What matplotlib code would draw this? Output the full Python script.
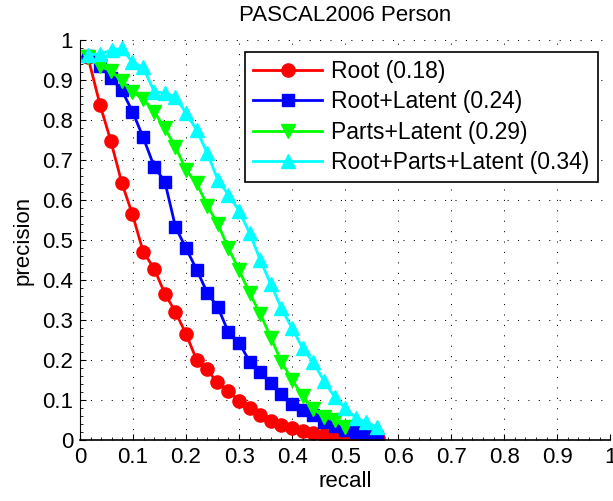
import numpy as np
import matplotlib
matplotlib.use("Agg")
import matplotlib.pyplot as plt
from matplotlib.ticker import MultipleLocator

plt.rcParams['font.family'] = ['Liberation Sans', 'DejaVu Sans']

# recall / precision samples
recall_root = [0.015, 0.038, 0.058, 0.079, 0.099, 0.119, 0.140, 0.160, 0.180, 0.200,
               0.220, 0.239, 0.258, 0.280, 0.300, 0.320, 0.340, 0.360, 0.380, 0.400,
               0.420, 0.440, 0.460, 0.480, 0.500, 0.520, 0.540, 0.562]
prec_root = [0.957, 0.837, 0.748, 0.642, 0.564, 0.471, 0.428, 0.366, 0.320, 0.265,
             0.200, 0.177, 0.145, 0.123, 0.097, 0.079, 0.063, 0.048, 0.037, 0.029,
             0.023, 0.017, 0.013, 0.009, 0.006, 0.004, 0.004, 0.006]

recall_rl = [0.015, 0.038, 0.058, 0.079, 0.099, 0.119, 0.140, 0.160, 0.180, 0.200,
             0.220, 0.240, 0.260, 0.280, 0.300, 0.320, 0.340, 0.360, 0.380, 0.400,
             0.420, 0.440, 0.460, 0.480, 0.500, 0.520, 0.540, 0.560]
prec_rl = [0.960, 0.935, 0.906, 0.874, 0.821, 0.757, 0.683, 0.646, 0.533, 0.479,
           0.426, 0.368, 0.332, 0.269, 0.243, 0.196, 0.169, 0.142, 0.116, 0.090,
           0.074, 0.062, 0.046, 0.035, 0.026, 0.019, 0.013, 0.008]

recall_pl = [0.015, 0.038, 0.058, 0.079, 0.099, 0.119, 0.140, 0.160, 0.180, 0.200,
             0.220, 0.240, 0.260, 0.280, 0.300, 0.320, 0.340, 0.360, 0.380, 0.400,
             0.420, 0.440, 0.460, 0.480, 0.500]
prec_pl = [0.958, 0.934, 0.923, 0.898, 0.870, 0.853, 0.821, 0.779, 0.733, 0.675,
           0.642, 0.586, 0.540, 0.479, 0.425, 0.367, 0.315, 0.256, 0.195, 0.150,
           0.110, 0.078, 0.058, 0.049, 0.033]

recall_rpl = [0.015, 0.038, 0.060, 0.079, 0.099, 0.119, 0.140, 0.160, 0.180, 0.200,
              0.220, 0.240, 0.260, 0.280, 0.300, 0.320, 0.340, 0.360, 0.380, 0.400,
              0.420, 0.440, 0.460, 0.480, 0.500, 0.520, 0.540, 0.560]
prec_rpl = [0.963, 0.965, 0.975, 0.979, 0.944, 0.932, 0.871, 0.867, 0.858, 0.817,
            0.775, 0.717, 0.650, 0.613, 0.573, 0.517, 0.450, 0.389, 0.329, 0.279,
            0.229, 0.194, 0.148, 0.108, 0.079, 0.056, 0.044, 0.033]

labels = ["Root (0.18)", "Root+Latent (0.24)", "Parts+Latent (0.29)",
          "Root+Parts+Latent (0.34)"]
tick_pos = [0, 0.1, 0.2, 0.3, 0.4, 0.5, 0.6, 0.7, 0.8, 0.9, 1]
tick_lbl = ["0", "0.1", "0.2", "0.3", "0.4", "0.5", "0.6", "0.7", "0.8", "0.9", "1"]

fig = plt.figure(figsize=(6.13, 5.01), dpi=100)
ax = fig.add_axes([0.1305, 0.1218, 0.865, 0.7984])

ax.plot(recall_root, prec_root, '-o', color=(1, 0, 0), lw=2, ms=9.5, label=labels[0])
ax.plot(recall_rl, prec_rl, '-s', color=(0, 0, 1), lw=2, ms=8.5, label=labels[1])
ax.plot(recall_pl, prec_pl, '-v', color=(0, 1, 0), lw=2, ms=10, label=labels[2])
ax.plot(recall_rpl, prec_rpl, '-^', color=(0, 1, 1), lw=2, ms=10, label=labels[3])

ax.set_xlim(0, 1)
ax.set_ylim(0, 1)
ax.set_xticks(tick_pos, tick_lbl)
ax.set_yticks(tick_pos, tick_lbl)
ax.xaxis.set_minor_locator(MultipleLocator(0.02))
ax.yaxis.set_minor_locator(MultipleLocator(0.02))
ax.tick_params(which='major', direction='in', length=4, width=0.8, labelsize=16, pad=5)
ax.tick_params(which='minor', direction='in', length=2, width=0.6)

for s in ['top', 'right']:
    ax.spines[s].set_visible(False)
ax.spines['left'].set_linewidth(0.8)
ax.spines['bottom'].set_linewidth(1.2)

ax.grid(True, which='major', color='k', lw=0.75, linestyle=(0, (1, 9)))
ax.set_axisbelow(True)

ax.set_title("PASCAL2006 Person", fontsize=16, pad=14)
ax.set_xlabel("recall", fontsize=16, labelpad=2)
ax.set_ylabel("precision", fontsize=16, labelpad=6)

leg = ax.legend(loc='upper right', bbox_to_anchor=(0.976, 0.97), fontsize=16.5,
                handlelength=3.0, handletextpad=0.4, labelspacing=0.32,
                borderpad=0.35, borderaxespad=0, fancybox=False, framealpha=1)
leg.get_frame().set_edgecolor('k')
leg.get_frame().set_linewidth(1.2)

fig.savefig("out.png", dpi=100)
